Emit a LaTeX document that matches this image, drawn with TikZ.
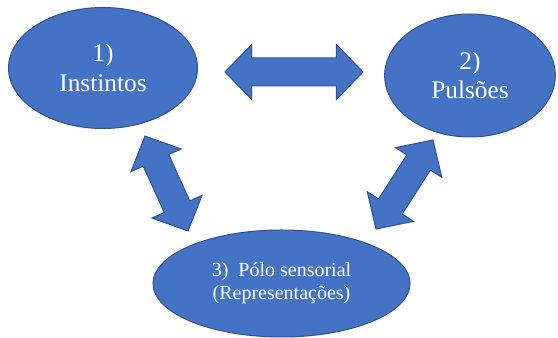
\documentclass[tikz,border=0pt]{standalone}
\usepackage{fontspec}
\setmainfont{Liberation Serif}
\usetikzlibrary{shapes.geometric,calc}
\definecolor{bubbleblue}{RGB}{68, 114, 196}
\definecolor{bubbleedge}{RGB}{47, 82, 143}
\newcommand{\headlen}{20pt}
\newcommand{\headhalf}{20.6pt}
\newcommand{\shafthalf}{10.5pt}
% block arrow with a head at both ends
\newcommand{\dblblock}[2]{%
  \filldraw[blockarrow] (#1)
    -- ($(#1)!\headlen!(#2)!\headhalf!90:(#2)$)
    -- ($(#1)!\headlen!(#2)!\shafthalf!90:(#2)$)
    -- ($(#2)!\headlen!(#1)!\shafthalf!-90:(#1)$)
    -- ($(#2)!\headlen!(#1)!\headhalf!-90:(#1)$)
    -- (#2)
    -- ($(#2)!\headlen!(#1)!\headhalf!90:(#1)$)
    -- ($(#2)!\headlen!(#1)!\shafthalf!90:(#1)$)
    -- ($(#1)!\headlen!(#2)!\shafthalf!-90:(#2)$)
    -- ($(#1)!\headlen!(#2)!\headhalf!-90:(#2)$)
    -- cycle;}
\tikzset{
  bubble/.style={ellipse, fill=bubbleblue, draw=bubbleedge, line width=0.75pt,
    inner sep=0pt, text=white, align=center},
  blockarrow/.style={fill=bubbleblue, draw=bubbleedge, line width=0.75pt, line join=miter}
}
\begin{document}
\begin{tikzpicture}[x=0.75pt, y=-0.75pt]
        \useasboundingbox (0,0) rectangle (558,338);

        % Ellipses
        \node[bubble, minimum width=141.75pt, minimum height=90.75pt,
              font=\fontsize{19}{22}\selectfont] (instintos) at (103,68) {1)\\Instintos};
        \node[bubble, minimum width=128pt, minimum height=92.25pt,
              font=\fontsize{19}{22}\selectfont] (pulsoes) at (470,75.5) {2)\\Pulsões};
        \node[bubble, minimum width=192.75pt, minimum height=80.25pt,
              font=\fontsize{15}{17.5}\selectfont] (polo) at (281.5,283.5) {3)\ \ Pólo sensorial\\(Representações)};

        % Arrow tips
        \coordinate (ip-a) at (225,72);
        \coordinate (ip-b) at (363,72);
        \coordinate (il-a) at (145,136);
        \coordinate (il-b) at (188,231);
        \coordinate (pl-a) at (433,140);
        \coordinate (pl-b) at (376,229);

        % Arrows
        \dblblock{ip-a}{ip-b}
        \dblblock{il-a}{il-b}
        \dblblock{pl-a}{pl-b}
    \end{tikzpicture}
\end{document}
